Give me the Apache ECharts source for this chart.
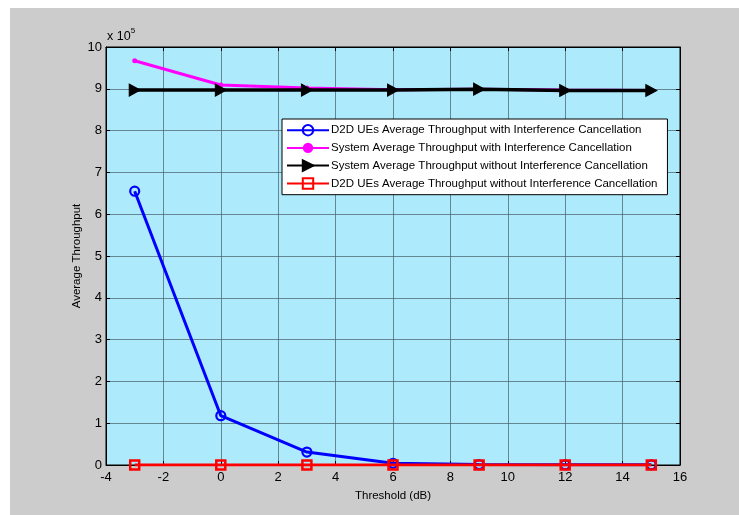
<!DOCTYPE html>
<html>
<head>
<meta charset="utf-8">
<script src="https://cdn.jsdelivr.net/npm/echarts@6/dist/echarts.min.js"></script>
<style>
html,body{margin:0;padding:0;background:#fff;}
#c{width:739px;height:515px;}
</style>
</head>
<body>
<div id="c"></div>
<script>
const thresholds = [-3, 0, 3, 6, 9, 12, 15];
const d2dWithIC = [655000, 118000, 31000, 4000, 1000, 500, 300];
const sysWithIC = [967000, 909000, 902000, 898000, 899000, 897000, 896000];
const sysWithoutIC = [897000, 897000, 897000, 897000, 899000, 896000, 896000];
const d2dWithoutIC = [0, 0, 0, 0, 0, 0, 0];
const seriesNames = [
  'D2D UEs Average Throughput with Interference Cancellation',
  'System Average Throughput with Interference Cancellation',
  'System Average Throughput without Interference Cancellation',
  'D2D UEs Average Throughput without Interference Cancellation'
];
const xTicks = [-4, 16, 2];
const yTicks = [0, 1000000, 100000];
const yAxisTitle = 'Average Throughput';

const pair = arr => thresholds.map((x, i) => [x, arr[i]]);
const FONT = 'Liberation Sans';
const chart = echarts.init(document.getElementById('c'), null, {renderer: 'canvas'});
const gridLine = {show: true, lineStyle: {color: '#4d6670', width: 1, opacity: 0.75}};
chart.setOption({
  animation: false,
  backgroundColor: '#ffffff',
  textStyle: {fontFamily: FONT},
  graphic: [
    {type: 'rect', z: -10, shape: {x: 10, y: 8, width: 729, height: 507}, style: {fill: '#cccccc'}},
    {type: 'text', left: 107, top: 27, z: 10, style: {
      text: '{a|x 10}{b|5}', rich: {
        a: {fontFamily: FONT, fontSize: 12.5, fill: '#000', verticalAlign: 'bottom', lineHeight: 16},
        b: {fontFamily: FONT, fontSize: 8, fill: '#000', verticalAlign: 'top', lineHeight: 16, padding: [0,0,9,0]}
      }}},
    {type: 'text', x: 77, y: 256, rotation: Math.PI / 2, z: 10, style: {
      text: yAxisTitle, fontFamily: FONT, fontSize: 11.5, fill: '#000', align: 'center', verticalAlign: 'middle'}}
  ],
  grid: {left: 106, top: 47, width: 574, height: 418, show: true, backgroundColor: '#adebfc', borderColor: '#000', borderWidth: 1, containLabel: false},
  legend: {
    orient: 'vertical', left: 282, top: 119,
    backgroundColor: '#ffffff', borderColor: '#000', borderWidth: 1,
    padding: [5, 10, 5, 4], itemGap: 5.5, itemWidth: 42, itemHeight: 13,
    textStyle: {fontFamily: FONT, fontSize: 11.5, color: '#000', padding: [0,0,0,-3]},
    data: seriesNames
  },
  xAxis: [
    {type: 'value', min: xTicks[0], max: xTicks[1], interval: xTicks[2], position: 'bottom',
     name: 'Threshold (dB)', nameLocation: 'middle', nameGap: 25,
     nameTextStyle: {fontFamily: FONT, fontSize: 11.5, color: '#000'},
     axisLine: {show: true, onZero: false, lineStyle: {color: '#000', width: 1}},
     axisTick: {show: true, inside: true, length: 4, lineStyle: {color: '#000'}},
     axisLabel: {fontFamily: FONT, fontSize: 13, color: '#000', margin: 6},
     splitLine: gridLine},
    {type: 'value', min: xTicks[0], max: xTicks[1], interval: xTicks[2], position: 'top',
     axisLine: {show: true, onZero: false, lineStyle: {color: '#000'}},
     axisTick: {show: true, inside: true, length: 4, lineStyle: {color: '#000'}},
     axisLabel: {show: false}, splitLine: {show: false}}
  ],
  yAxis: [
    {type: 'value', min: yTicks[0], max: yTicks[1], interval: yTicks[2], position: 'left',
     axisLine: {show: true, onZero: false, lineStyle: {color: '#000', width: 1}},
     axisTick: {show: true, inside: true, length: 4, lineStyle: {color: '#000'}},
     axisLabel: {fontFamily: FONT, fontSize: 13, color: '#000', margin: 4, formatter: v => String(Math.round(v / 100000))},
     splitLine: gridLine},
    {type: 'value', min: yTicks[0], max: yTicks[1], interval: yTicks[2], position: 'right',
     axisLine: {show: true, onZero: false, lineStyle: {color: '#000'}},
     axisTick: {show: true, inside: true, length: 4, lineStyle: {color: '#000'}},
     axisLabel: {show: false}, splitLine: {show: false}}
  ],
  series: [
    {name: seriesNames[0], type: 'line', data: pair(d2dWithIC), z: 2,
     lineStyle: {color: '#0000ff', width: 3}, symbol: 'circle', symbolSize: 9,
     itemStyle: {color: 'rgba(0,0,0,0)', borderColor: '#0000ff', borderWidth: 2.2}},
    {name: seriesNames[1], type: 'line', data: pair(sysWithIC), z: 3,
     lineStyle: {color: '#ff00ff', width: 3}, symbol: 'circle', symbolSize: 5,
     itemStyle: {color: '#ff00ff', borderColor: '#ff00ff', borderWidth: 0}},
    {name: seriesNames[2], type: 'line', data: pair(sysWithoutIC), z: 4,
     lineStyle: {color: '#000000', width: 3.5}, symbol: 'triangle', symbolRotate: -90, symbolSize: [12, 11],
     itemStyle: {color: '#000000', borderColor: '#000000', borderWidth: 1}},
    {name: seriesNames[3], type: 'line', data: pair(d2dWithoutIC), z: 5,
     lineStyle: {color: '#ff0000', width: 3}, symbol: 'rect', symbolSize: 9,
     itemStyle: {color: 'rgba(0,0,0,0)', borderColor: '#ff0000', borderWidth: 2.5}}
  ]
});
</script>
</body>
</html>
